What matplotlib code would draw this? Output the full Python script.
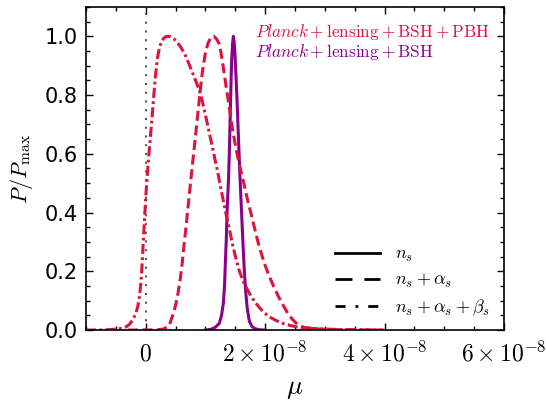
import numpy as np
import matplotlib.pyplot as plt
from matplotlib.lines import Line2D
from matplotlib.ticker import MultipleLocator

plt.rcParams['mathtext.fontset'] = 'cm'

# mu values in units of 1e-8
mu_ns = [1.0, 1.1, 1.17, 1.233, 1.27, 1.30, 1.32, 1.334, 1.35, 1.362, 1.375, 1.388,
         1.40, 1.41, 1.42, 1.43, 1.44, 1.455, 1.468, 1.482, 1.497, 1.513, 1.528,
         1.543, 1.558, 1.575, 1.592, 1.61, 1.63, 1.65, 1.675, 1.70, 1.736, 1.78,
         1.83, 1.9, 2.0]
p_ns = [0.0, 0.003, 0.01, 0.023, 0.05, 0.091, 0.15, 0.227, 0.31, 0.397, 0.46, 0.52,
        0.60, 0.681, 0.77, 0.85, 0.92, 0.975, 1.0, 0.98, 0.93, 0.86, 0.79,
        0.71, 0.63, 0.54, 0.46, 0.38, 0.29, 0.21, 0.13, 0.075, 0.03, 0.012,
        0.005, 0.001, 0.0]

mu_ns_as = [-0.3, 0.1, 0.2, 0.3, 0.368, 0.40, 0.425, 0.47, 0.508, 0.545, 0.576,
            0.61, 0.639, 0.67, 0.698, 0.727, 0.756, 0.785, 0.815, 0.845, 0.874,
            0.903, 0.932, 0.965, 0.999, 1.045, 1.095, 1.14, 1.19, 1.233, 1.26,
            1.289, 1.33, 1.372, 1.414, 1.456, 1.50, 1.54, 1.59, 1.643, 1.70,
            1.76, 1.82, 1.88, 1.94, 2.0, 2.07, 2.14, 2.22, 2.30, 2.377, 2.45,
            2.517, 2.58, 2.656, 2.8, 3.0, 3.5, 4.0]
p_ns_as = [0.0, 0.0005, 0.001, 0.004, 0.011, 0.02, 0.034, 0.06, 0.091, 0.13, 0.17,
           0.225, 0.284, 0.34, 0.397, 0.455, 0.511, 0.568, 0.624, 0.681, 0.738,
           0.795, 0.851, 0.9, 0.942, 0.977, 0.997, 1.0, 0.99, 0.973, 0.945,
           0.908, 0.852, 0.795, 0.738, 0.681, 0.632, 0.59, 0.545, 0.50, 0.448,
           0.40, 0.35, 0.30, 0.258, 0.22, 0.183, 0.15, 0.115, 0.085, 0.058, 0.038,
           0.024, 0.015, 0.009, 0.005, 0.002, 0.0005, 0.0]

mu_ns_as_bs = [-1.0, -0.7, -0.5, -0.4, -0.33, -0.27, -0.218, -0.17, -0.134, -0.10,
               -0.077, -0.06, -0.045, -0.03, -0.015, 0.0, 0.02, 0.05, 0.079, 0.107,
               0.134, 0.162, 0.20, 0.23, 0.26, 0.30, 0.34, 0.38, 0.42, 0.48, 0.564,
               0.62, 0.676, 0.73, 0.787, 0.84, 0.899, 0.94, 0.982, 1.03, 1.066,
               1.11, 1.15, 1.2, 1.24, 1.29, 1.34, 1.40, 1.456, 1.51, 1.57, 1.65,
               1.736, 1.82, 1.903, 1.98, 2.07, 2.18, 2.293, 2.43, 2.572, 2.75,
               2.96, 3.2, 3.5, 4.0]
p_ns_as_bs = [0.0, 0.0005, 0.003, 0.006, 0.011, 0.02, 0.034, 0.055, 0.079, 0.12,
              0.17, 0.225, 0.284, 0.34, 0.397, 0.45, 0.51, 0.59, 0.658, 0.726,
              0.795, 0.863, 0.93, 0.96, 0.98, 0.993, 0.999, 1.0, 0.998, 0.99, 0.97,
              0.952, 0.93, 0.903, 0.874, 0.847, 0.817, 0.785, 0.749, 0.705, 0.67,
              0.63, 0.59, 0.545, 0.50, 0.45, 0.40, 0.345, 0.29, 0.245, 0.20, 0.158,
              0.125, 0.098, 0.077, 0.06, 0.045, 0.033, 0.023, 0.015, 0.009, 0.006,
              0.004, 0.002, 0.001, 0.0]

RED = '#dc143c'
PURPLE = '#8b008b'

fig = plt.figure(figsize=(5.46, 4.04), dpi=100)
ax = fig.add_axes([0.1575, 0.183, 0.7655, 0.8])

ax.axvline(0, color='#555555', lw=1.5, ls=(0, (1, 3.2)))
ax.plot(np.array(mu_ns) * 1e-8, p_ns, color=PURPLE, lw=2.2)
ax.plot(np.array(mu_ns_as) * 1e-8, p_ns_as, color=RED, lw=2.2, ls=(0, (3.3, 1.5)))
ax.plot(np.array(mu_ns_as_bs) * 1e-8, p_ns_as_bs, color=RED, lw=2.2,
        ls=(0, (3.3, 1.1, 0.9, 1.1)))

ax.set_xlim(-1e-8, 6e-8)
ax.set_ylim(0, 1.1)
ax.set_xticks([0, 2e-8, 4e-8, 6e-8])
ax.set_xticklabels([r'$0$', r'$2\times10^{-8}$', r'$4\times10^{-8}$', r'$6\times10^{-8}$'],
                   fontsize=17)
ax.xaxis.set_minor_locator(MultipleLocator(0.5e-8))
ax.yaxis.set_major_locator(MultipleLocator(0.2))
ax.yaxis.set_minor_locator(MultipleLocator(0.05))
ax.tick_params(which='both', direction='in', top=True, right=True, width=1)
ax.tick_params(which='major', length=5)
ax.tick_params(which='minor', length=3)
ax.tick_params(axis='x', pad=8)
ax.tick_params(axis='y', labelsize=15, pad=6)
for s in ax.spines.values():
    s.set_linewidth(1.2)

ax.set_ylabel(r'$P/P_{\rm max}$', fontsize=16)
ax.yaxis.set_label_coords(-0.123, 0.5)
ax.set_xlabel(r'$\mu$', fontsize=19)
ax.xaxis.set_label_coords(0.5, -0.14)

ax.text(0.404, 0.923, r'$\mathit{Planck}+\mathrm{lensing}+\mathrm{BSH}+\mathrm{PBH}$',
        color=RED, fontsize=12.4, transform=ax.transAxes, va='center')
ax.text(0.404, 0.86, r'$\mathit{Planck}+\mathrm{lensing}+\mathrm{BSH}$',
        color=PURPLE, fontsize=12.4, transform=ax.transAxes, va='center')

handles = [Line2D([], [], color='k', lw=2),
           Line2D([], [], color='k', lw=2, ls=(0, (6.1, 4.3))),
           Line2D([], [], color='k', lw=2, ls=(0, (3.6, 3.6, 1, 3.6)))]
labels = [r'$n_s$', r'$n_s+\alpha_s$', r'$n_s+\alpha_s+\beta_s$']
ax.legend(handles, labels, loc='center left', bbox_to_anchor=(0.596, 0.15),
          frameon=False, fontsize=13, handlelength=2.5, handletextpad=0.83,
          borderpad=0, borderaxespad=0, labelspacing=0.4)

fig.savefig('out.png', dpi=100)
